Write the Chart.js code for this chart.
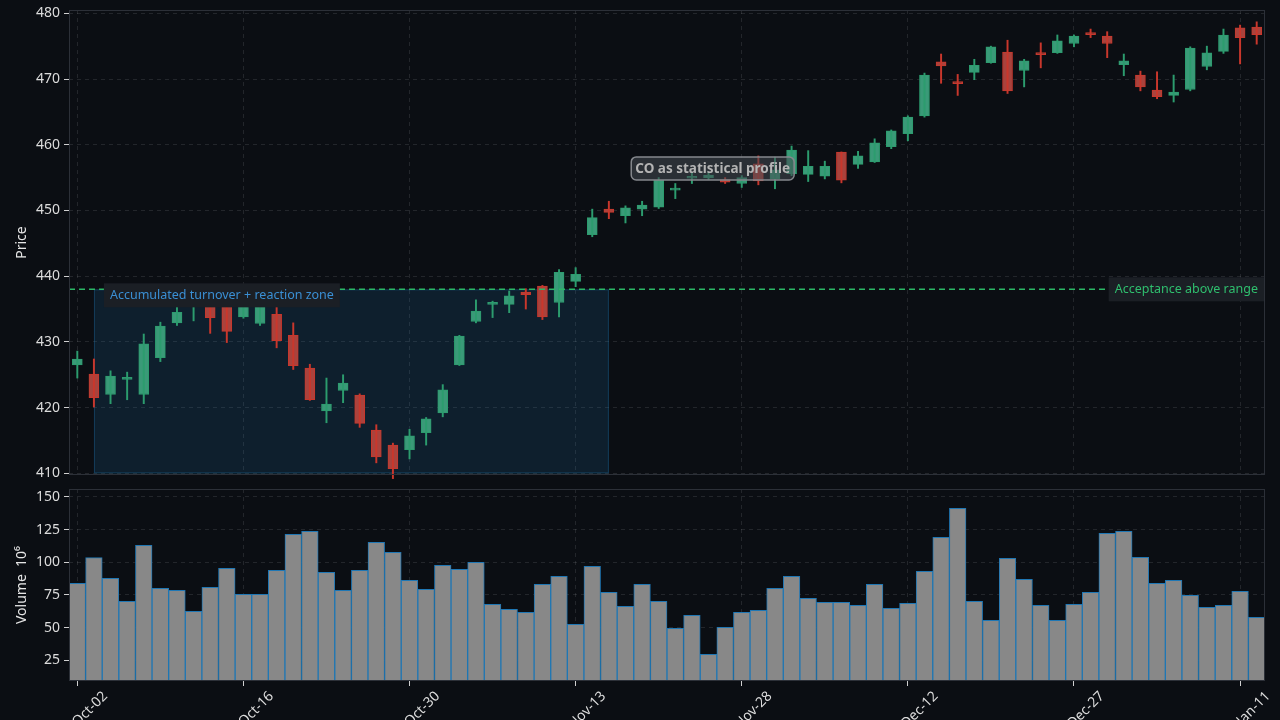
<!DOCTYPE html>
<html>
<head>
<meta charset="utf-8">
<script src="https://cdn.jsdelivr.net/npm/chart.js@4.4.1/dist/chart.umd.min.js"></script>
<style>
  html, body { margin: 0; padding: 0; background: #0b0e13; }
  #wrap { position: relative; width: 1280px; height: 720px; overflow: hidden; }
  #price { position: absolute; left: 0; top: 0; }
  #vol { position: absolute; left: 0; top: 485px; }
</style>
</head>
<body>
<div id="wrap">
  <canvas id="price" width="1280" height="485"></canvas>
  <canvas id="vol" width="1280" height="235"></canvas>
</div>
<script>
// trading days, Oct 2023 - Jan 2024
const dates = [
  'Oct-02','Oct-03','Oct-04','Oct-05','Oct-06','Oct-09','Oct-10','Oct-11','Oct-12','Oct-13',
  'Oct-16','Oct-17','Oct-18','Oct-19','Oct-20','Oct-23','Oct-24','Oct-25','Oct-26','Oct-27',
  'Oct-30','Oct-31','Nov-01','Nov-02','Nov-03','Nov-06','Nov-07','Nov-08','Nov-09','Nov-10',
  'Nov-13','Nov-14','Nov-15','Nov-16','Nov-17','Nov-20','Nov-21','Nov-22','Nov-24','Nov-27',
  'Nov-28','Nov-29','Nov-30','Dec-01','Dec-04','Dec-05','Dec-06','Dec-07','Dec-08','Dec-11',
  'Dec-12','Dec-13','Dec-14','Dec-15','Dec-18','Dec-19','Dec-20','Dec-21','Dec-22','Dec-26',
  'Dec-27','Dec-28','Dec-29','Jan-02','Jan-03','Jan-04','Jan-05','Jan-08','Jan-09','Jan-10',
  'Jan-11','Jan-12'
];

const opens = [
  426.5, 425.1, 422.0, 424.3, 422.0, 427.6, 432.9, 435.6, 436.6, 436.3,
  433.8, 432.8, 434.2, 431.0, 426.0, 419.5, 422.6, 421.9, 416.6, 414.3,
  413.6, 416.2, 419.2, 426.5, 433.1, 435.7, 435.7, 437.6, 438.5, 436.0,
  439.2, 446.3, 450.2, 449.2, 450.2, 450.5, 453.1, 454.9, 455.0, 454.7,
  454.1, 457.1, 454.8, 455.6, 455.5, 455.2, 458.9, 457.0, 457.4, 459.7,
  461.7, 464.4, 472.6, 469.55, 471.0, 472.5, 474.1, 471.3, 473.96, 474.0,
  475.4, 477.0, 476.55, 472.2, 470.6, 468.3, 467.5, 468.4, 471.9, 474.2,
  477.8, 477.9
];
const highs = [
  428.6, 427.4, 425.6, 425.4, 431.2, 433.0, 435.3, 437.2, 437.4, 436.8,
  436.5, 436.6, 435.8, 432.9, 426.6, 424.5, 425.0, 422.1, 417.4, 414.6,
  416.7, 418.5, 423.5, 431.0, 436.4, 436.2, 437.75, 438.1, 438.6, 441.0,
  441.3, 450.2, 451.4, 450.7, 451.4, 455.0, 454.1, 455.8, 455.8, 455.0,
  455.3, 458.3, 458.1, 459.8, 459.1, 457.5, 458.9, 459.0, 460.9, 462.25,
  464.4, 470.9, 473.8, 470.7, 473.0, 475.0, 475.9, 473.0, 475.5, 476.7,
  476.7, 477.6, 477.2, 473.8, 471.2, 471.1, 470.6, 474.9, 475.0, 477.6,
  478.2, 478.7
];
const lows = [
  424.5, 420.1, 420.6, 421.2, 420.6, 427.0, 432.5, 433.2, 431.3, 429.9,
  433.6, 432.5, 429.1, 425.8, 421.1, 417.7, 420.75, 417.0, 411.6, 409.2,
  412.2, 414.3, 418.6, 426.4, 432.9, 433.7, 434.45, 435.0, 433.4, 433.8,
  438.4, 446.0, 448.75, 448.1, 449.2, 450.3, 451.8, 454.1, 454.7, 454.1,
  453.5, 453.9, 453.3, 455.3, 454.4, 454.8, 454.2, 456.4, 457.3, 459.4,
  460.6, 464.2, 469.35, 467.5, 469.9, 472.4, 467.8, 468.8, 471.7, 473.9,
  474.9, 476.3, 473.25, 470.5, 468.2, 467.0, 466.5, 468.2, 471.4, 473.9,
  472.3, 475.3
];
const closes = [
  427.4, 421.5, 424.8, 424.5, 429.7, 432.4, 434.5, 436.4, 433.7, 431.6,
  435.8, 435.9, 430.2, 426.4, 421.2, 420.55, 423.75, 417.6, 412.5, 410.7,
  415.7, 418.3, 422.7, 430.9, 434.7, 435.9, 437.0, 437.2, 433.8, 440.6,
  440.3, 448.9, 449.7, 450.4, 450.8, 454.6, 453.3, 455.2, 455.4, 454.3,
  455.0, 454.5, 456.2, 459.2, 456.7, 456.7, 454.6, 458.3, 460.3, 462.1,
  464.2, 470.6, 472.0, 469.3, 472.1, 474.9, 468.2, 472.75, 473.7, 475.8,
  476.55, 476.75, 475.4, 472.75, 468.8, 467.3, 468.0, 474.7, 474.0, 476.7,
  476.3, 476.75
];
// volume in millions
const volumes = [
  84, 103.6, 87.8, 70.2, 113, 80.1, 78.6, 62.5, 80.9, 95.4,
  75.5, 75.5, 93.9, 121.4, 123.7, 92.3, 78.6, 93.9, 115.3, 107.7,
  86.2, 79.3, 97.7, 94.6, 100, 67.9, 64, 61.7, 83.2, 89.3,
  52.6, 96.9, 77, 66.3, 83.2, 70.2, 49.5, 59.4, 29.6, 50.3,
  61.7, 63.3, 80.1, 89.3, 72.4, 69.4, 69.4, 67.1, 83.2, 64.8,
  68.6, 93.1, 119.1, 141.3, 70.2, 55.6, 103.1, 87, 67.1, 55.6,
  67.9, 77, 122.2, 123.7, 103.8, 83.9, 86.2, 74.7, 65.6, 67.1,
  77.8, 57.9
];

const priceTicks = [410, 420, 430, 440, 450, 460, 470, 480];
const volumeTicks = [25, 50, 75, 100, 125, 150];

// annotation anchors (data space)
const zoneStart = 1, zoneEnd = 32;
const zoneLow = 410, rangeTop = 438;
const noteIdx = 38.25, noteValue = 456.4;

const UP = '#3a9a78', UP_LINE = '#2c9c6e';
const DOWN = '#a9433d', DOWN_LINE = '#c9372c';
const GRID = 'rgba(255,255,255,0.10)';
const TICK_TXT = '#dcdcdc';

Chart.defaults.font.family = '"Noto Sans", sans-serif';
Chart.defaults.font.size = 14;
Chart.defaults.color = TICK_TXT;

const isUp = closes.map((c, i) => c >= opens[i]);

const frame = {
  id: 'frame',
  afterDraw(chart) {
    const { ctx, chartArea: a } = chart;
    ctx.save();
    ctx.strokeStyle = '#2c3038';
    ctx.lineWidth = 1;
    ctx.strokeRect(a.left + 0.5, a.top + 0.5, a.width - 1, a.height - 1);
    ctx.restore();
  }
};

function tag(ctx, text, left, top, h, txtColor, bg) {
  const w = ctx.measureText(text).width + 12;
  ctx.fillStyle = bg;
  ctx.fillRect(left, top, w, h);
  ctx.fillStyle = txtColor;
  ctx.textBaseline = 'middle';
  ctx.textAlign = 'left';
  ctx.fillText(text, left + 6, top + h / 2 + 0.5);
  return w;
}

const marks = {
  id: 'marks',
  beforeDatasetsDraw(chart) {
    const { ctx, scales: { x, y } } = chart;
    const x0 = x.getPixelForValue(zoneStart), x1 = x.getPixelForValue(zoneEnd);
    const y0 = y.getPixelForValue(rangeTop), y1 = y.getPixelForValue(zoneLow);
    ctx.save();
    ctx.fillStyle = 'rgba(31,119,180,0.17)';
    ctx.fillRect(x0, y0, x1 - x0, y1 - y0);
    ctx.strokeStyle = 'rgba(31,119,180,0.35)';
    ctx.lineWidth = 1;
    ctx.strokeRect(x0 + 0.5, y0 + 0.5, x1 - x0 - 1, y1 - y0 - 1);
    ctx.restore();
  },
  afterDatasetsDraw(chart) {
    const { ctx, chartArea: a, scales: { x, y } } = chart;
    const ly = y.getPixelForValue(rangeTop);
    ctx.save();
    // acceptance level
    ctx.strokeStyle = '#2cb866';
    ctx.lineWidth = 1.5;
    ctx.setLineDash([6, 4]);
    ctx.beginPath();
    ctx.moveTo(a.left, ly);
    ctx.lineTo(a.right, ly);
    ctx.stroke();
    ctx.setLineDash([]);

    ctx.font = '12.5px "Noto Sans", sans-serif';
    tag(ctx, 'Accumulated turnover + reaction zone', x.getPixelForValue(zoneStart) + 10, ly - 6, 24, '#3a8fd4', '#1b1f25');
    const w = ctx.measureText('Acceptance above range').width + 12;
    tag(ctx, 'Acceptance above range', a.right - 1 - w, ly - 12, 24, '#2fbf6e', '#1b1f25');

    // note box
    ctx.font = 'bold 13.5px "Noto Sans", sans-serif';
    const t = 'CO as statistical profile';
    const tw = ctx.measureText(t).width + 8;
    const cx = x.getPixelForValue(noteIdx), cy = y.getPixelForValue(noteValue);
    ctx.beginPath();
    ctx.roundRect(cx - tw / 2, cy - 11.5, tw, 23, 5);
    ctx.fillStyle = 'rgba(70,75,82,0.55)';
    ctx.fill();
    ctx.strokeStyle = '#85888d';
    ctx.lineWidth = 1.5;
    ctx.stroke();
    ctx.fillStyle = '#b4b4b4';
    ctx.textAlign = 'center';
    ctx.textBaseline = 'middle';
    ctx.fillText(t, cx, cy + 0.5);
    ctx.restore();
  }
};

const everyTen = s => { s.ticks = s.ticks.filter(t => t.value % 10 === 0); };
const noPad = s => { s.paddingTop = 0; s.paddingBottom = 0; s.paddingLeft = 0; s.paddingRight = 0; };

new Chart(document.getElementById('price'), {
  type: 'bar',
  data: {
    labels: dates,
    datasets: [{
      label: 'wick',
      data: lows.map((l, i) => [l, highs[i]]),
      backgroundColor: isUp.map(u => u ? UP_LINE : DOWN_LINE),
      barThickness: 1.3,
      grouped: false,
      clip: false
    }, {
      label: 'body',
      data: opens.map((o, i) => [o, closes[i]]),
      backgroundColor: isUp.map(u => u ? UP : DOWN),
      borderColor: isUp.map(u => u ? UP_LINE : DOWN_LINE),
      borderWidth: 1,
      borderSkipped: false,
      barThickness: 10,
      minBarLength: 2,
      grouped: false,
      clip: false
    }]
  },
  options: {
    responsive: false,
    animation: false,
    layout: { padding: { top: 10, right: 15, bottom: 10, left: 0 } },
    plugins: { legend: { display: false }, tooltip: { enabled: false } },
    scales: {
      x: {
        offset: true,
        afterBuildTicks: everyTen,
        afterFit: s => { s.height = 0; noPad(s); },
        ticks: { display: false, autoSkip: false },
        grid: { offset: false, color: GRID, drawTicks: false },
        border: { display: false, dash: [4, 4] }
      },
      y: {
        min: 409.75,
        max: 480.5,
        afterBuildTicks: s => { s.ticks = priceTicks.map(v => ({ value: v })); },
        afterFit: s => { s.width = 69; noPad(s); },
        title: { display: true, text: 'Price', color: '#e6e6e6', font: { size: 14 }, padding: { top: 14, bottom: 4 } },
        ticks: { color: TICK_TXT, padding: 4 },
        grid: { color: GRID, tickColor: '#d0d0d0', tickBorderDash: [], tickLength: 5 },
        border: { display: false, dash: [4, 4] }
      }
    }
  },
  plugins: [marks, frame]
});

new Chart(document.getElementById('vol'), {
  type: 'bar',
  data: {
    labels: dates,
    datasets: [{
      label: 'Volume',
      data: volumes,
      backgroundColor: '#888888',
      borderColor: '#1f77b4',
      borderWidth: 1,
      borderSkipped: false,
      barPercentage: 1,
      categoryPercentage: 1
    }]
  },
  options: {
    responsive: false,
    animation: false,
    layout: { padding: { top: 4, right: 15, bottom: 0, left: 0 } },
    plugins: { legend: { display: false }, tooltip: { enabled: false } },
    scales: {
      x: {
        offset: true,
        afterBuildTicks: everyTen,
        afterFit: s => { s.height = 39; noPad(s); },
        ticks: { color: TICK_TXT, autoSkip: false, maxRotation: 45, minRotation: 45, padding: 2, labelOffset: 28 },
        grid: { offset: false, color: GRID, tickColor: '#d0d0d0', tickBorderDash: [], tickLength: 5 },
        border: { display: false, dash: [4, 4] }
      },
      y: {
        min: 9.2,
        max: 156.1,
        afterBuildTicks: s => { s.ticks = volumeTicks.map(v => ({ value: v })); },
        afterFit: s => { s.width = 69; noPad(s); },
        title: { display: true, text: 'Volume  10\u2076', color: '#e6e6e6', font: { size: 14 }, padding: { top: 14, bottom: 4 } },
        ticks: { color: TICK_TXT, padding: 4 },
        grid: { color: GRID, tickColor: '#d0d0d0', tickBorderDash: [], tickLength: 5 },
        border: { display: false, dash: [4, 4] }
      }
    }
  },
  plugins: [frame]
});
</script>
</body>
</html>
